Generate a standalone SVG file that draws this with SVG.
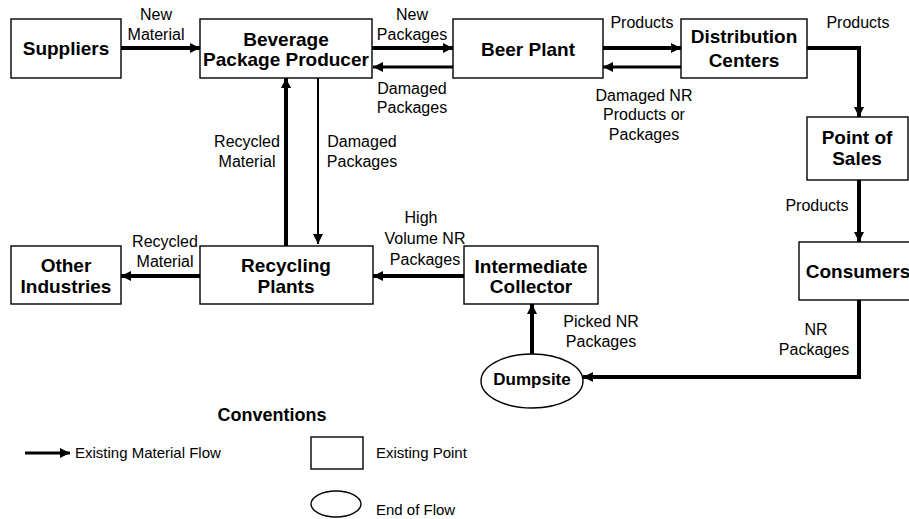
<svg xmlns="http://www.w3.org/2000/svg" width="909" height="519" viewBox="0 0 909 519">
  <style>
    .box { fill: #ffffff; stroke: #000000; stroke-width: 1.4; }
    .node { font-family: "Liberation Sans", Arial, sans-serif; font-weight: bold; font-size: 19px; text-anchor: middle; fill: #000000; }
    .lbl { font-family: "Liberation Sans", Arial, sans-serif; font-size: 16px; text-anchor: middle; fill: #000000; }
    .leg { font-family: "Liberation Sans", Arial, sans-serif; font-size: 15px; fill: #000000; }
    .thick { fill: none; stroke: #000000; stroke-width: 4; marker-end: url(#head); }
    .mid { fill: none; stroke: #000000; stroke-width: 3; marker-end: url(#head); }
    .thin { fill: none; stroke: #000000; stroke-width: 2; marker-end: url(#head); }
  </style>
  <defs>
    <marker id="head" markerUnits="userSpaceOnUse" markerWidth="11" markerHeight="11" refX="10" refY="5" orient="auto">
      <path d="M0,0 L10,5 L0,10 z" fill="#000000"/>
    </marker>
  </defs>
  <rect width="909" height="519" fill="#ffffff"/>

  <!-- flows between points -->
  <g id="connectors">
    <line class="thick" x1="121" y1="48" x2="200" y2="48"/>
    <line class="thick" x1="372" y1="48" x2="453" y2="48"/>
    <line class="mid" x1="453" y1="67" x2="373" y2="67"/>
    <line class="thick" x1="603" y1="48" x2="681" y2="48"/>
    <line class="mid" x1="681" y1="67" x2="603" y2="67"/>
    <polyline class="thick" points="807,48 859,48 859,117"/>
    <line class="thick" x1="859" y1="180" x2="859" y2="242"/>
    <polyline class="thick" points="859,300 859,377 583,377"/>
    <line class="thick" x1="532" y1="354" x2="532" y2="304"/>
    <line class="thick" x1="464" y1="276" x2="373" y2="276"/>
    <line class="thick" x1="200" y1="276" x2="121" y2="276"/>
    <line class="thick" x1="286" y1="246" x2="286" y2="78"/>
    <line class="thin" x1="318" y1="78" x2="318" y2="244"/>

    <text class="lbl" x="156" y="20">New</text>
    <text class="lbl" x="156" y="40">Material</text>
    <text class="lbl" x="412" y="20">New</text>
    <text class="lbl" x="412" y="40">Packages</text>
    <text class="lbl" x="412" y="94">Damaged</text>
    <text class="lbl" x="412" y="113">Packages</text>
    <text class="lbl" x="642" y="28">Products</text>
    <text class="lbl" x="858" y="28">Products</text>
    <text class="lbl" x="644" y="101">Damaged NR</text>
    <text class="lbl" x="644" y="120">Products or</text>
    <text class="lbl" x="644" y="140">Packages</text>
    <text class="lbl" x="247" y="147">Recycled</text>
    <text class="lbl" x="247" y="167">Material</text>
    <text class="lbl" x="362" y="147">Damaged</text>
    <text class="lbl" x="362" y="167">Packages</text>
    <text class="lbl" x="421" y="223">High</text>
    <text class="lbl" x="425" y="244">Volume NR</text>
    <text class="lbl" x="425" y="265">Packages</text>
    <text class="lbl" x="165" y="247">Recycled</text>
    <text class="lbl" x="165" y="267">Material</text>
    <text class="lbl" x="817" y="211">Products</text>
    <text class="lbl" x="601" y="327">Picked NR</text>
    <text class="lbl" x="601" y="347">Packages</text>
    <text class="lbl" x="816" y="335">NR</text>
    <text class="lbl" x="814" y="355">Packages</text>
  </g>

  <g id="suppliers">
    <rect class="box" x="11" y="19" width="110" height="59"/>
    <text class="node" x="66" y="55">Suppliers</text>
  </g>
  <g id="beverage-package-producer">
    <rect class="box" x="200" y="19" width="172" height="59"/>
    <text class="node" x="286" y="46">Beverage</text>
    <text class="node" x="286" y="66">Package Producer</text>
  </g>
  <g id="beer-plant">
    <rect class="box" x="453" y="19" width="150" height="59"/>
    <text class="node" x="528" y="56">Beer Plant</text>
  </g>
  <g id="distribution-centers">
    <rect class="box" x="681" y="19" width="126" height="59"/>
    <text class="node" x="744" y="43">Distribution</text>
    <text class="node" x="744" y="67">Centers</text>
  </g>
  <g id="point-of-sales">
    <rect class="box" x="807" y="117" width="101" height="63"/>
    <text class="node" x="857" y="144">Point of</text>
    <text class="node" x="857" y="165">Sales</text>
  </g>
  <g id="consumers">
    <rect class="box" x="799" y="242" width="120" height="58"/>
    <text class="node" x="858" y="278">Consumers</text>
  </g>
  <g id="intermediate-collector">
    <rect class="box" x="464" y="246" width="134" height="58"/>
    <text class="node" x="531" y="273">Intermediate</text>
    <text class="node" x="531" y="293">Collector</text>
  </g>
  <g id="recycling-plants">
    <rect class="box" x="200" y="246" width="173" height="58"/>
    <text class="node" x="286" y="272">Recycling</text>
    <text class="node" x="286" y="293">Plants</text>
  </g>
  <g id="other-industries">
    <rect class="box" x="11" y="246" width="110" height="58"/>
    <text class="node" x="66" y="272">Other</text>
    <text class="node" x="66" y="293">Industries</text>
  </g>
  <g id="dumpsite">
    <ellipse class="box" cx="532" cy="381" rx="51" ry="27"/>
    <text class="node" x="532" y="385" style="font-size:17px">Dumpsite</text>
  </g>

  <!-- legend -->
  <g id="conventions">
    <text class="node" x="272" y="421" style="font-size:18px">Conventions</text>
    <line class="thick" x1="25" y1="453" x2="70" y2="453" style="stroke-width:3"/>
    <text class="leg" x="75" y="458">Existing Material Flow</text>
    <rect class="box" x="311" y="437" width="52" height="32"/>
    <text class="leg" x="376" y="458">Existing Point</text>
    <ellipse class="box" cx="336" cy="504" rx="25" ry="13"/>
    <text class="leg" x="376" y="515">End of Flow</text>
  </g>
</svg>
